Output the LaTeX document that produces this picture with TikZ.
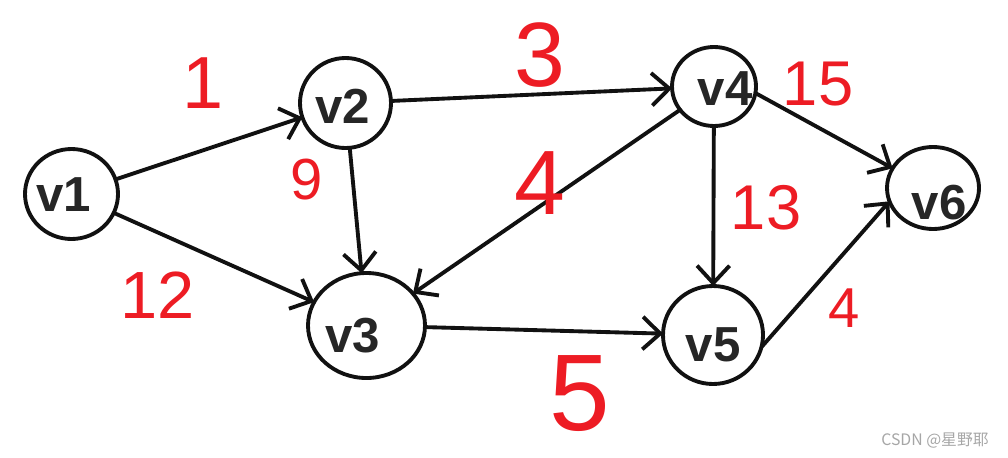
\documentclass[tikz,border=0pt]{standalone}
\usepackage{fontspec}
\setsansfont{Liberation Sans}
\newfontfamily\cjkfont{Noto Sans CJK SC}
\usetikzlibrary{arrows.meta,shapes.geometric}
\definecolor{inkred}{HTML}{ED1C24}
\definecolor{inkblack}{HTML}{111111}
\definecolor{markgray}{HTML}{A6A6A6}
\tikzset{
  every picture/.style={line join=round, line cap=round, >={Straight Barb[length=3.5mm,width=6.5mm]}},
  vertex/.style={ellipse, draw=inkblack, line width=2.2pt, inner sep=0pt, outer sep=0pt},
  vname/.style={font=\sffamily\bfseries\fontsize{28}{28}\selectfont, text=black!85},
  edgeline/.style={->, line width=2.2pt, draw=inkblack},
  wt/.style={text=inkred, inner sep=0pt, font=\sffamily\fontsize{#1}{#1}\selectfont},
}

\begin{document}
\begin{tikzpicture}
\useasboundingbox (0,0) rectangle (20.160,9.140);
\node[vertex,minimum width=1.86cm,minimum height=1.80cm](v1) at (1.430,5.260) {};
\node[vertex,minimum width=1.82cm,minimum height=1.80cm](v2) at (6.910,7.080) {};
\node[vertex,minimum width=2.34cm,minimum height=2.10cm](v3) at (7.330,2.630) {};
\node[vertex,minimum width=1.68cm,minimum height=1.58cm](v4) at (14.280,7.410) {};
\node[vertex,minimum width=2.00cm,minimum height=1.96cm](v5) at (14.260,2.440) {};
\node[vertex,minimum width=1.84cm,minimum height=1.64cm](v6) at (18.660,5.380) {};
\node[vname](v1-name) at (1.280,5.240) {v1};
\node[vname](v2-name) at (6.860,7.020) {v2};
\node[vname](v3-name) at (7.060,2.420) {v3};
\node[vname](v4-name) at (14.500,7.360) {v4};
\node[vname](v5-name) at (14.260,2.240) {v5};
\node[vname](v6-name) at (18.780,5.080) {v6};
\draw[edgeline](v1)--(v2);
\draw[edgeline](v1)--(v3);
\draw[edgeline](v2)--(v3);
\draw[edgeline](v2)--(v4);
\draw[edgeline](v4)--(v3);
\draw[edgeline](v3)--(v5);
\draw[edgeline](v4)--(v5);
\draw[edgeline](v4.-9)--(v6.154);
\draw[edgeline](v5.-14)--(v6.197);
\node[wt=42](w12) at (4.060,7.480) {1};
\node[wt=52](w24) at (10.800,8.040) {3};
\node[wt=36](w46) at (16.360,7.460) {15};
\node[wt=33](w23) at (6.140,5.540) {9};
\node[wt=38](w13) at (3.160,3.240) {12};
\node[wt=52](w43) at (10.800,5.480) {4};
\node[wt=36](w45) at (15.320,4.980) {13};
\node[wt=32](w56) at (16.880,2.980) {4};
\node[wt=62](w35) at (11.600,1.260) {5};
\node[font=\cjkfont\fontsize{9}{9}\selectfont,text=markgray](mark) at (18.700,0.320) {CSDN @星野耶};
\end{tikzpicture}
\end{document}
